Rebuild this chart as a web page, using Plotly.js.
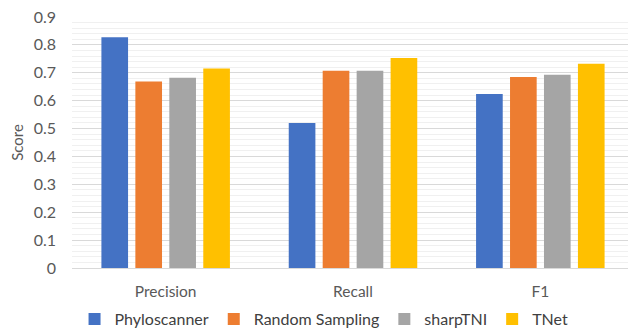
<!DOCTYPE html>
<html>
<head>
<meta charset="utf-8">
<script src="https://cdn.plot.ly/plotly-3.0.1.min.js"></script>
<style>
  html, body { margin: 0; padding: 0; background: #fff; overflow: hidden; }
  #chart { width: 628px; height: 328px; }
</style>
</head>
<body>
<div id="chart"></div>
<script>
// Evaluation metrics per method
const categories = ["Precision", "Recall", "F1"];
const methods = ["Phyloscanner", "Random Sampling", "sharpTNI", "TNet"];
const phyloscanner = [0.827, 0.520, 0.624];
const randomSampling = [0.669, 0.707, 0.685];
const sharpTNI = [0.682, 0.707, 0.693];
const tnet = [0.715, 0.753, 0.732];
const colors = ["#4472C4", "#ED7D31", "#A5A5A5", "#FFC000"];

const series = [phyloscanner, randomSampling, sharpTNI, tnet];
const traces = series.map((vals, i) => ({
  type: "bar",
  name: methods[i],
  x: categories,
  y: vals,
  marker: { color: colors[i] },
  hoverinfo: "none"
}));

const font = "Lato, 'Open Sans', 'DejaVu Sans', sans-serif";

const layout = {
  width: 628,
  height: 328,
  margin: { l: 72, r: 0, t: 17, b: 60, autoexpand: false },
  paper_bgcolor: "#fff",
  plot_bgcolor: "#fff",
  barmode: "group",
  bargap: 0.275,
  bargroupgap: 0.215,
  showlegend: true,
  legend: {
    orientation: "h",
    xref: "container", yref: "container",
    x: 0.516, xanchor: "center",
    y: 0.027, yanchor: "middle",
    font: { family: font, size: 16, color: "#404040" },
    traceorder: "normal",
    itemwidth: 30
  },
  xaxis: {
    type: "category",
    range: [-0.5, 2.468],
    showgrid: false,
    showline: true,
    linecolor: "#d9d9d9",
    linewidth: 1,
    ticks: "",
    ticklabelstandoff: 9,
    tickfont: { family: font, size: 15.5, color: "#595959" },
    zeroline: false,
    fixedrange: true,
    automargin: false
  },
  yaxis: {
    range: [0, 0.9],
    dtick: 0.1,
    tick0: 0,
    tickformat: ".1~f",
    showgrid: true,
    gridcolor: "#d9d9d9",
    gridwidth: 1,
    minor: { dtick: 0.02, showgrid: true, gridcolor: "#f0f0f0", gridwidth: 1 },
    zeroline: false,
    showline: false,
    ticks: "",
    ticklabelstandoff: 15,
    tickfont: { family: font, size: 16, color: "#595959" },
    title: { text: "Score", font: { family: font, size: 15, color: "#595959" }, standoff: 6 },
    fixedrange: true,
    automargin: false
  }
};

Plotly.newPlot("chart", traces, layout, { displayModeBar: false, staticPlot: true });
</script>
</body>
</html>
